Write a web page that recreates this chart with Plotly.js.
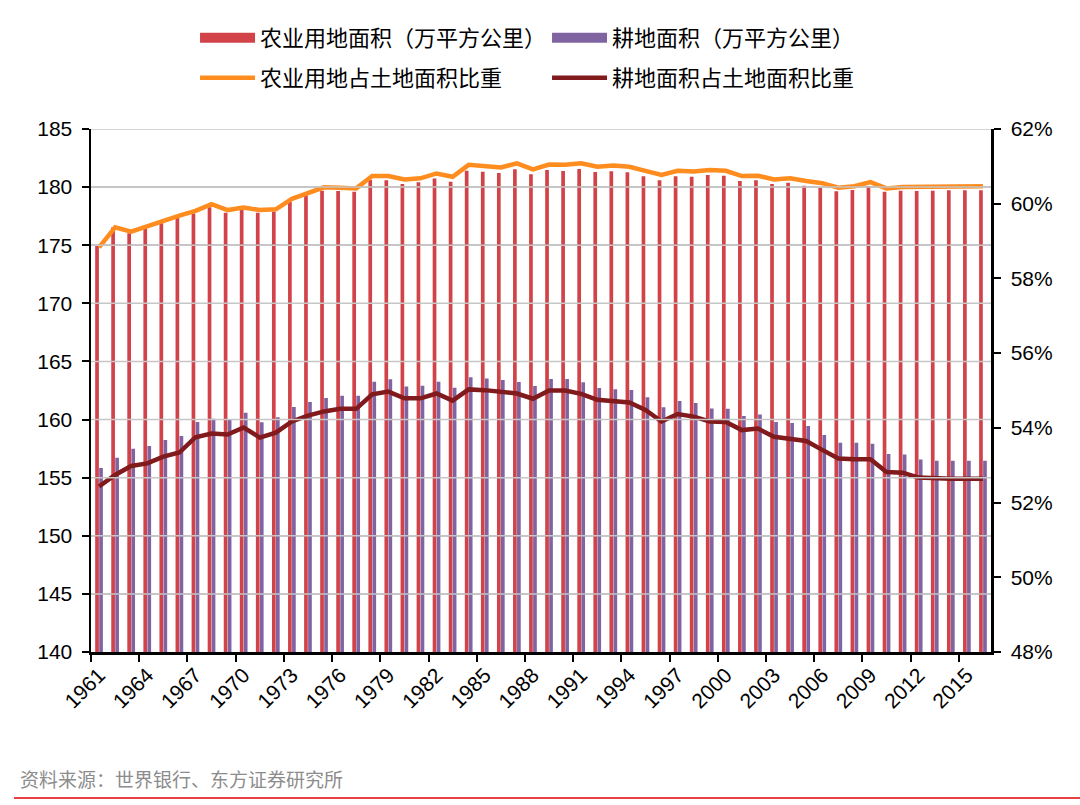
<!DOCTYPE html>
<html>
<head>
<meta charset="utf-8">
<script src="https://cdn.plot.ly/plotly-3.0.1.min.js"></script>
<style>html,body{margin:0;padding:0;background:#fff;}#chart{width:1080px;height:805px;}</style>
</head>
<body>
<div id="chart"></div>
<script>
const years = [];
for (let y = 1961; y <= 2016; y++) years.push(String(y));

const agriLand = [174.93,176.54,176.02,176.54,177.11,177.46,177.74,178.26,177.8,178.03,
  177.8,177.91,178.75,179.29,179.69,179.66,179.6,180.61,180.58,180.27,
  180.41,180.75,180.47,181.41,181.33,181.21,181.53,181.1,181.47,181.39,
  181.56,181.3,181.36,181.27,180.93,180.58,180.93,180.9,181.04,180.98,
  180.52,180.58,180.27,180.38,180.12,179.92,179.64,179.75,180.07,179.61,
  179.69,179.66,179.69,179.72,179.72,179.72];

const arableLand = [155.83,156.72,157.49,157.72,158.24,158.58,159.78,160.07,159.99,160.59,
  159.76,160.19,161.08,161.51,161.85,162.05,162.05,163.26,163.46,162.85,
  162.91,163.26,162.74,163.63,163.54,163.4,163.23,162.88,163.49,163.49,
  163.2,162.71,162.6,162.54,161.91,161.05,161.59,161.42,160.96,160.93,
  160.3,160.44,159.78,159.7,159.44,158.67,158.01,158.01,157.92,157.03,
  157.0,156.57,156.46,156.46,156.46,156.46];

const agriShare = [58.83,59.37,59.25,59.4,59.56,59.68,59.81,59.99,59.83,59.9,
  59.83,59.85,60.13,60.3,60.44,60.43,60.41,60.74,60.74,60.65,
  60.68,60.81,60.72,61.04,61.01,60.97,61.08,60.92,61.05,61.04,
  61.08,60.99,61.02,60.99,60.88,60.77,60.88,60.86,60.9,60.88,
  60.74,60.75,60.65,60.68,60.61,60.55,60.43,60.47,60.58,60.41,
  60.45,60.45,60.46,60.47,60.47,60.47];

const arableShare = [52.43,52.74,52.98,53.05,53.23,53.34,53.75,53.85,53.82,54.01,
  53.74,53.87,54.17,54.33,54.44,54.51,54.51,54.9,54.97,54.79,
  54.79,54.92,54.73,55.03,55.01,54.98,54.92,54.78,55.0,55.0,
  54.91,54.75,54.7,54.68,54.48,54.17,54.37,54.3,54.17,54.16,
  53.94,53.98,53.76,53.72,53.65,53.41,53.18,53.16,53.16,52.82,
  52.8,52.67,52.64,52.64,52.64,52.64];

const names = ['农业用地面积（万平方公里）','耕地面积（万平方公里）','农业用地占土地面积比重','耕地面积占土地面积比重'];
const leftTicks = [140,145,150,155,160,165,170,175,180,185];
const rightTicks = [48,50,52,54,56,58,60,62];
const rightTickText = ['48%','50%','52%','54%','56%','58%','60%','62%'];

const cRed = 'rgb(209,67,72)';
const cPurple = 'rgb(128,100,162)';
const cOrange = 'rgb(255,140,30)';
const cDark = 'rgb(128,26,28)';
const cGrid = '#c6c6c6';

const traces = [
  {type:'bar', x:years, y:agriLand, name:names[0], marker:{color:cRed}, showlegend:false, yaxis:'y'},
  {type:'bar', x:years, y:arableLand, name:names[1], marker:{color:cPurple}, showlegend:false, yaxis:'y'},
  {type:'scatter', mode:'lines', x:years, y:agriShare, name:names[2], line:{color:cOrange, width:4.5}, yaxis:'y2', legend:'legend3'},
  {type:'scatter', mode:'lines', x:years, y:arableShare, name:names[3], line:{color:cDark, width:4.5}, yaxis:'y2', legend:'legend4'},
  {type:'scatter', mode:'lines', x:[null], y:[null], name:names[0], line:{color:cRed, width:14}, yaxis:'y', legend:'legend', hoverinfo:'skip'},
  {type:'scatter', mode:'lines', x:[null], y:[null], name:names[1], line:{color:cPurple, width:14}, yaxis:'y', legend:'legend2', hoverinfo:'skip'}
];

const legFont = {family:'"Noto Sans CJK SC", sans-serif', size:22, color:'#000'};
function leg(x, y) {
  return {x:x, y:y, xanchor:'left', yanchor:'middle', orientation:'v', font:legFont,
          bgcolor:'rgba(0,0,0,0)', borderwidth:0, itemwidth:55};
}

const tickFont = {family:'"Liberation Sans", Arial, sans-serif', size:21, color:'#000'};

const gridShapes = leftTicks.slice(1).map(v => ({type:'line', layer:'above', xref:'paper', yref:'y',
  x0:0, x1:1, y0:v, y1:v, line:{color:cGrid, width:1.5}}));

const layout = {
  width:1080, height:805,
  margin:{l:91, r:89, t:129, b:153},
  paper_bgcolor:'#fff', plot_bgcolor:'#fff',
  barmode:'group', bargap:0.5, bargroupgap:0.08,
  showlegend:true,
  legend: leg(0.1156, 1.174),
  legend2: leg(0.5067, 1.174),
  legend3: leg(0.1156, 1.0975),
  legend4: leg(0.5067, 1.0975),
  xaxis:{type:'category', tickmode:'linear', tick0:0, dtick:3, tickson:'boundaries',
         ticks:'outside', ticklen:7, tickwidth:2, tickcolor:'#000',
         showline:true, linecolor:'#000', linewidth:2.5, showgrid:false,
         tickangle:-45, tickfont:tickFont, range:[-0.5, 55.5]},
  yaxis:{range:[140,185], tickmode:'array', tickvals:leftTicks, ticks:'outside', ticklen:7, tickwidth:2, tickcolor:'#000',
         showline:true, linecolor:'#000', linewidth:2.5, showgrid:true, gridcolor:cGrid, gridwidth:1.5,
         zeroline:false, tickfont:tickFont, ticklabelstandoff:5},
  yaxis2:{range:[48,62], tickmode:'array', tickvals:rightTicks, ticktext:rightTickText, overlaying:'y', side:'right',
          ticks:'outside', ticklen:7, tickwidth:2, tickcolor:'#000',
          showline:true, linecolor:'#000', linewidth:2.5, showgrid:false, zeroline:false, tickfont:tickFont,
          ticklabelstandoff:6},
  annotations:[{text:'资料来源：世界银行、东方证券研究所', xref:'paper', yref:'paper',
    x:-0.0811, y:-0.2428, xanchor:'left', yanchor:'middle', showarrow:false,
    font:{family:'"Noto Sans CJK SC", sans-serif', size:19, color:'#8c8c8c'}}],
  shapes: gridShapes.concat([{type:'line', xref:'paper', yref:'paper', x0:-0.0856, x1:1.1, y0:-0.279, y1:-0.279,
    line:{color:'rgb(225,0,0)', width:1.5}}])
};

Plotly.newPlot('chart', traces, layout, {displayModeBar:false, staticPlot:true});
</script>
</body>
</html>
